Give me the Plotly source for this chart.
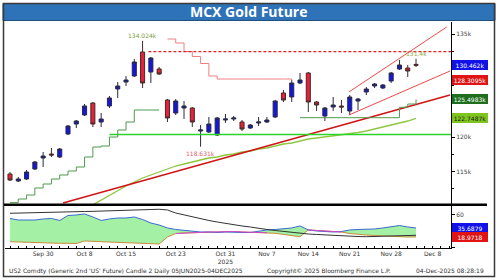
import plotly.graph_objects as go

W, H = 500, 280

# ---------------- data ----------------
idx = list(range(50))
opens = [114666, 113648, 113939, 115392, 116991, 117573, 117137, 120480, 121933, 123241,
         124985, 122224, 124549, 127020, 128038, 128910, 132398, 129492, 129927, 125422,
         123532, 124259, 124259, 120916, 120770, 120334, 122515, 122660, 122224, 121352,
         122079, 122224, 122951, 126439, 125858, 127892, 129346, 125131, 123096, 124404,
         124549, 123823, 125276, 126584, 127456, 127166, 128183, 129927, 130073, 130600]
highs = [114956, 114230, 115247, 116555, 117863, 118445, 118445, 121788, 122515, 124840,
         125131, 123532, 126003, 128038, 128910, 131381, 134024, 131672, 130218, 125567,
         125567, 125276, 124404, 121788, 122951, 122950, 123387, 123096, 122515, 121933,
         122951, 122951, 125422, 126875, 128329, 129346, 129492, 125276, 124404, 125858,
         125422, 126148, 125712, 127311, 127892, 127747, 129492, 131236, 130509, 131400]
lows = [113648, 113503, 113794, 115247, 115683, 117137, 116991, 120334, 121352, 123096,
        121497, 121497, 124259, 125712, 127456, 128765, 127166, 127892, 129055, 122224,
        123241, 122660, 121497, 118631, 120625, 120200, 122079, 122369, 120916, 121206,
        121642, 122079, 122805, 125131, 125131, 127747, 123677, 123823, 122369, 123823,
        123532, 123241, 123968, 126148, 127166, 127020, 127892, 129782, 128765, 130218]
closes = [113794, 113939, 114956, 116410, 117282, 117427, 118299, 121642, 122369, 124549,
          121933, 122660, 125712, 127456, 128329, 130945, 127892, 131526, 129201, 122805,
          125276, 124549, 122224, 121061, 121933, 122805, 122660, 122805, 121206, 121788,
          122224, 122515, 125276, 125422, 127892, 128329, 125131, 124695, 124259, 124695,
          124404, 125858, 125567, 127020, 127747, 127602, 129346, 130509, 129637, 130462]

# moving average (yellow-green)
ma_idx = list(range(10, 50))
ma_vals = [110188, 110886, 111613, 112340, 112921, 113503, 114084, 114520, 114956, 115392,
           115828, 116119, 116410, 116700, 116991, 117137, 117427, 117573, 117863, 118009,
           118299, 118445, 118736, 119026, 119172, 119463, 119753, 119898, 120044, 120262,
           120407, 120552, 120698, 120916, 121206, 121497, 121715, 122006, 122369, 122749]

# trailing stop lines
up_stop_idx = list(range(0, 19))
up_stop_vals = [110509, 111032, 111613, 112631, 113212, 113939, 114520, 115101, 115683, 117137,
                118590, 118736, 120044, 121061, 122224, 123968, 123968, 123968, 123968]
up_stop2_idx = list(range(35, 50))
up_stop2_vals = [122849] * 12 + [124360, 124840, 125498]
dn_stop_idx = list(range(19, 35))
dn_stop_vals = [134290, 133707, 132471, 131744, 130727, 128910, 128474, 128474, 128474, 128474,
                128474, 128474, 128474, 128474, 128474, 128310]

# drawn levels / trend lines
resist_level = 132440
resist_from = 16.7
support_level = 120407
support_from = 12.0
trend_idx = [6.4, 53.1]
trend_vals = [110450, 126148]
chan_up_idx = [40.9, 52.7]
chan_up_vals = [126584, 136033]
chan_lo_idx = [40.9, 53.1]
chan_lo_vals = [123241, 129637]

# lower panel (DMI)
di_plus = [53.3, 50.5, 50.5, 50.5, 52.4, 53.3, 49.6, 58.9, 59.8, 61.7,
           56.1, 49.6, 52.4, 54.2, 54.2, 56.1, 51.4, 44.9, 41.2, 35.7,
           32.9, 31.0, 29.2, 28.2, 28.2, 27.3, 28.2, 27.3, 27.3, 27.3,
           30.1, 32.0, 32.9, 34.8, 35.7, 39.4, 32.0, 30.1, 29.2, 28.2,
           29.2, 32.0, 32.9, 32.9, 33.8, 35.7, 37.5, 40.3, 37.5, 35.69]
di_minus = [10.2, 9.6, 8.7, 8.3, 7.8, 7.8, 7.2, 7.2, 6.8, 11.5,
            10.6, 9.6, 9.6, 8.7, 8.3, 7.8, 6.8, 5.9, 5.9, 18.9,
            25.4, 26.4, 26.9, 27.3, 28.2, 28.2, 29.2, 29.2, 28.2, 27.3,
            26.4, 26.9, 25.8, 23.6, 21.7, 19.5, 32.0, 31.0, 30.1, 29.2,
            28.2, 25.4, 23.6, 22.6, 21.7, 20.8, 19.8, 18.4, 18.9, 18.97]
adx = [63.0, 63.5, 64.0, 64.5, 64.8, 65.1, 65.4, 65.7, 66.0, 66.3,
       66.6, 66.9, 67.2, 67.8, 68.5, 69.1, 69.6, 70.0, 70.4, 69.1,
       63.5, 59.8, 56.1, 52.4, 49.6, 46.8, 44.0, 41.2, 39.4, 37.5,
       34.8, 32.9, 31.0, 29.2, 27.3, 25.4, 24.5, 23.6, 22.6, 21.7,
       20.8, 19.8, 19.8, 19.5, 19.8, 20.2, 20.8, 21.3, 21.7, 22.1]

x_tick_pos = [4, 9, 14, 20, 26, 31, 36, 41, 46, 51]
x_tick_text = ["Sep 30", "Oct 8", "Oct 15", "Oct 23", "Oct 31<br>2025", "Nov 7",
               "Nov 14", "Nov 21", "Nov 28", "Dec 8"]
y_tick_vals = [115000, 120000, 125000, 130000, 135000]
y_tick_text = ["115k", "120k", "", "", "135k"]

# ---------------- helpers ----------------
def px(x):
    return x / W

def py(y):
    return 1 - y / H

XR = [-0.603, 53.22]
FONT = "DejaVu Sans"

fig = go.Figure()

# main panel lines
fig.add_trace(go.Scatter(x=ma_idx, y=ma_vals, mode="lines", line=dict(color="#8DC63F", width=1.3),
                         xaxis="x2", yaxis="y2", hoverinfo="skip"))
fig.add_trace(go.Scatter(x=trend_idx, y=trend_vals, mode="lines", line=dict(color="#D01515", width=1.6),
                         xaxis="x2", yaxis="y2", hoverinfo="skip"))
fig.add_trace(go.Scatter(x=[support_from, XR[1]], y=[support_level, support_level], mode="lines",
                         line=dict(color="#2BD32B", width=1.3), xaxis="x2", yaxis="y2", hoverinfo="skip"))
fig.add_trace(go.Scatter(x=up_stop_idx, y=up_stop_vals, mode="lines", line=dict(color="#4E9A4E", width=1, shape="hv"),
                         xaxis="x2", yaxis="y2", hoverinfo="skip"))
fig.add_trace(go.Scatter(x=up_stop2_idx, y=up_stop2_vals, mode="lines", line=dict(color="#4E9A4E", width=1, shape="hv"),
                         xaxis="x2", yaxis="y2", hoverinfo="skip"))
fig.add_trace(go.Scatter(x=dn_stop_idx, y=dn_stop_vals, mode="lines", line=dict(color="#F08080", width=1, shape="hv"),
                         xaxis="x2", yaxis="y2", hoverinfo="skip"))
fig.add_trace(go.Scatter(x=[resist_from, XR[1]], y=[resist_level, resist_level], mode="lines",
                         line=dict(color="#E02020", width=1.2, dash="3px,2px"), xaxis="x2", yaxis="y2", hoverinfo="skip"))
fig.add_trace(go.Scatter(x=chan_up_idx, y=chan_up_vals, mode="lines", line=dict(color="#F04848", width=1),
                         xaxis="x2", yaxis="y2", hoverinfo="skip"))
fig.add_trace(go.Scatter(x=chan_lo_idx, y=chan_lo_vals, mode="lines", line=dict(color="#F04848", width=1),
                         xaxis="x2", yaxis="y2", hoverinfo="skip"))

fig.add_trace(go.Candlestick(
    x=idx, open=opens, high=highs, low=lows, close=closes, xaxis="x2", yaxis="y2",
    increasing=dict(fillcolor="#1515E0", line=dict(color="#2a2a40", width=1)),
    decreasing=dict(fillcolor="#E8203C", line=dict(color="#402a2a", width=1)),
    whiskerwidth=0, hoverinfo="skip"))

# lower panel
fig.add_trace(go.Scatter(x=idx, y=di_minus, mode="lines", line=dict(color="#C98A3A", width=1),
                         xaxis="x", yaxis="y", hoverinfo="skip"))
fig.add_trace(go.Scatter(x=idx, y=di_plus, mode="lines", line=dict(color="#3A6AD0", width=1),
                         fill="tonexty", fillcolor="#A4F0A4", xaxis="x", yaxis="y", hoverinfo="skip"))
mag = [v if (20 <= i <= 31 or 36 <= i <= 40) else None for i, v in zip(idx, di_minus)]
fig.add_trace(go.Scatter(x=idx, y=mag, mode="lines", line=dict(color="#D048C8", width=1),
                         xaxis="x", yaxis="y", hoverinfo="skip", connectgaps=False))
fig.add_trace(go.Scatter(x=idx, y=adx, mode="lines", line=dict(color="#333333", width=1),
                         xaxis="x", yaxis="y", hoverinfo="skip"))

shapes = [
    dict(type="rect", xref="paper", yref="paper", x0=px(3), x1=px(495), y0=py(3.5), y1=py(20.5),
         fillcolor="#2E72B8", line=dict(color="#1F4F80", width=1), layer="below"),
    dict(type="rect", xref="paper", yref="paper", x0=px(3.5), x1=px(494.5), y0=py(3.5), y1=py(276.5),
         line=dict(color="#3a3a3a", width=1.5)),
    dict(type="line", xref="paper", yref="paper", x0=px(4), x1=px(487), y0=py(204.7), y1=py(204.7),
         line=dict(color="#000000", width=2.5)),
]

ann = []
ann.append(dict(text="<b>MCX Gold Future</b>", x=px(248), y=py(12), xref="paper", yref="paper",
                xanchor="center", yanchor="middle",
                showarrow=False, font=dict(family="Open Sans", size=14, color="white")))
ann.append(dict(text="US2 Comdty (Generic 2nd 'US' Future) Candle 2 Daily 05JUN2025-04DEC2025",
                x=px(7), y=py(270.5), xref="paper", yref="paper", xanchor="left", yanchor="middle",
                showarrow=False, font=dict(family=FONT, size=6, color="#333")))
ann.append(dict(text="Copyright© 2025 Bloomberg Finance L.P.", x=px(329), y=py(270.5), xref="paper",
                yref="paper", xanchor="center", yanchor="middle",
                showarrow=False, font=dict(family=FONT, size=6, color="#333")))
ann.append(dict(text="04-Dec-2025 08:28:19", x=px(486), y=py(270.5), xref="paper", yref="paper",
                xanchor="right", yanchor="middle", showarrow=False,
                font=dict(family=FONT, size=6, color="#333")))

# high / low labels
ann.append(dict(text="134.024k", x=16, y=highs[16], xref="x2", yref="y2", yanchor="bottom", yshift=0,
                showarrow=False, font=dict(family=FONT, size=6, color="#7C9A3C")))
ann.append(dict(text="118.631k", x=23, y=lows[23], xref="x2", yref="y2", yanchor="top", yshift=-1,
                showarrow=False, font=dict(family=FONT, size=6, color="#E06070")))
ann.append(dict(text="131.4k", x=49, y=highs[49], xref="x2", yref="y2", yanchor="bottom", yshift=0,
                showarrow=False, font=dict(family=FONT, size=6, color="#8AA848")))

# axis value boxes
def box(text, yv, yref, bg, fg):
    ann.append(dict(text=text, x=px(452), y=yv, xref="paper", yref=yref, xanchor="left", yanchor="middle",
                    showarrow=False, bgcolor=bg, bordercolor=bg, borderpad=0, width=34, height=8,
                    font=dict(family=FONT, size=6, color=fg)))

box("130.462k", closes[49], "y2", "#1212E8", "white")
box("128.3095k", dn_stop_vals[-1], "y2", "#E01414", "white")
box("125.4983k", up_stop2_vals[-1], "y2", "#1E6E1E", "white")
box("122.7487k", ma_vals[-1], "y2", "#80C420", "#1a1a1a")
box("35.6879", di_plus[-1], "y", "#1212E8", "white")
box("18.9718", di_minus[-1], "y", "#E01414", "white")

fig.update_layout(
    width=W, height=H, margin=dict(l=0, r=0, t=0, b=0),
    paper_bgcolor="white", plot_bgcolor="white", showlegend=False,
    shapes=shapes, annotations=ann,
    xaxis=dict(domain=[px(5), px(451)], range=XR, anchor="y", showgrid=False, zeroline=False,
               showline=True, linecolor="#000", linewidth=1, tickvals=x_tick_pos, ticktext=x_tick_text,
               ticks="", tickfont=dict(family=FONT, size=6, color="#333"),
               minor=dict(dtick=1, tick0=0, ticks="inside", ticklen=2, tickcolor="#000"),
               fixedrange=True),
    yaxis=dict(domain=[py(248), py(206)], range=[-1.5, 76.5], anchor="x", side="right", showgrid=False,
               zeroline=False, showline=True, linecolor="#000", linewidth=1, tickvals=[0, 30, 60],
               ticktext=["", "", "60"], ticks="outside", ticklen=3, tickcolor="#000",
               tickfont=dict(family=FONT, size=6, color="#444")),
    xaxis2=dict(domain=[px(5), px(451)], range=XR, anchor="y2", matches="x", showgrid=False, zeroline=False,
                showline=False, showticklabels=False, ticks="", rangeslider=dict(visible=False)),
    yaxis2=dict(domain=[py(205), py(22)], range=[110160, 136759], anchor="x2", side="right", showgrid=False,
                zeroline=False, showline=True, linecolor="#000", linewidth=1, tickvals=y_tick_vals,
                ticktext=y_tick_text, ticks="outside", ticklen=3, tickcolor="#000",
                tickfont=dict(family=FONT, size=6, color="#444"),
                minor=dict(tickvals=[112500, 117500, 122500, 127500, 132500], ticks="outside",
                           ticklen=2, tickcolor="#000")),
)

fig.write_html("out.html")
